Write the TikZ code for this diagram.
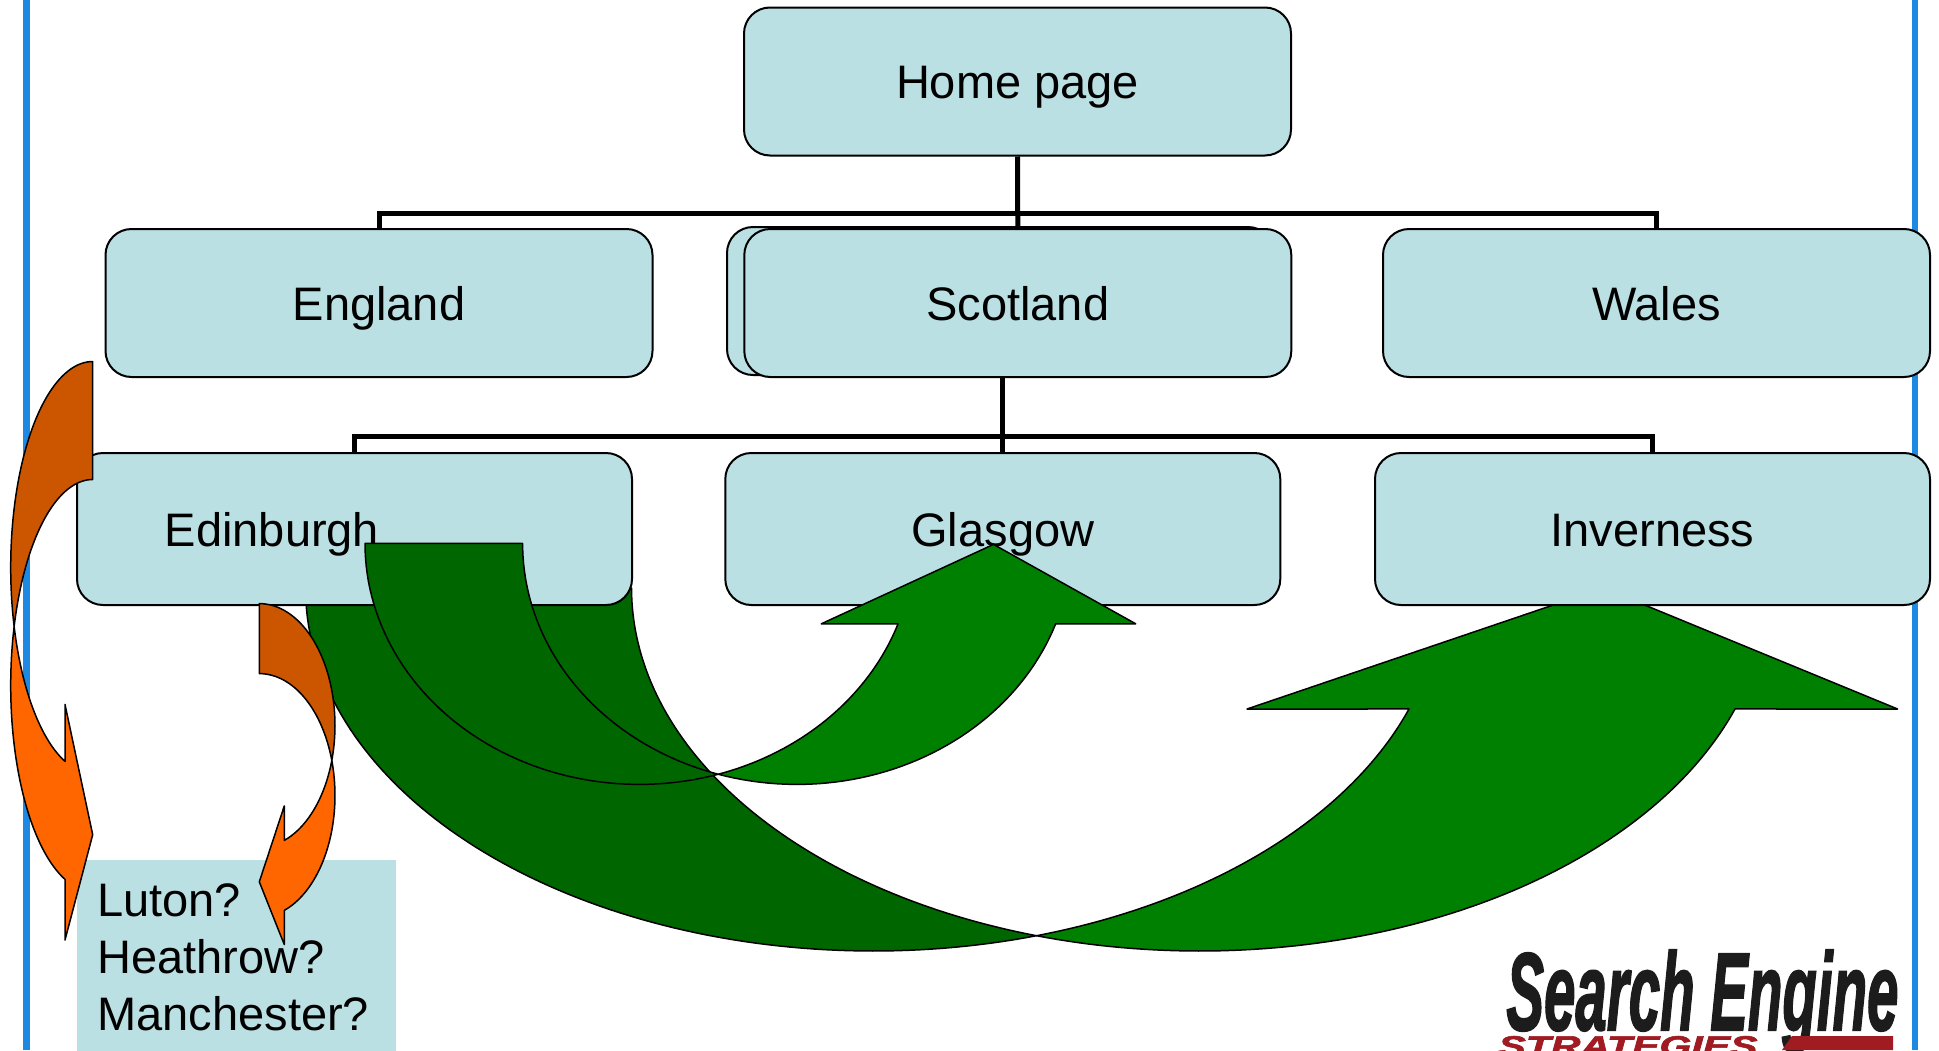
\documentclass[tikz,border=0pt]{standalone}
\usepackage{fontspec}
\setmainfont{Liberation Sans}
\newfontfamily\logofont[FakeBold=2]{Liberation Sans}
\usepackage{graphicx}
\definecolor{boxblue}{RGB}{187,224,227}
\definecolor{sideblue}{RGB}{30,137,226}
\definecolor{darkorange}{RGB}{204,85,0}
\definecolor{lightorange}{RGB}{255,102,0}
\definecolor{darkgreen}{RGB}{0,102,0}
\definecolor{lightgreen}{RGB}{0,128,0}
\definecolor{logored}{RGB}{160,28,34}
\definecolor{logoblack}{RGB}{28,28,28}
\pgfdeclarelayer{back}
\pgfsetlayers{back,main}
\begin{document}
\begin{tikzpicture}[x=0.5pt,y=-0.5pt,
  lbl/.style={font=\fontsize{23.5pt}{28.45pt}\selectfont, text height=17pt, text depth=0pt, inner sep=0pt},
  topbox/.style={lbl, draw=black, line width=1pt, fill=boxblue, rounded corners=13pt, minimum width=273.5pt, minimum height=74pt},
  subbox/.style={topbox, minimum width=277.5pt, minimum height=76pt},
  conn/.style={draw=black, line width=2.5pt},
  shapeline/.style={draw=black, line width=0.75pt, line join=round},
  darkO/.style={shapeline, fill=darkorange},
  lightO/.style={shapeline, fill=lightorange},
  darkG/.style={shapeline, fill=darkgreen},
  lightG/.style={shapeline, fill=lightgreen}]
\useasboundingbox (0,0) rectangle (1939,1050);
\clip (0,0) rectangle (1939,1050);
% side rules
\fill[sideblue] (23,0) rectangle (29.5,1050);
\fill[sideblue] (1912,0) rectangle (1918,1050);
% boxes
\coordinate (bus1) at (0,213.6);
\coordinate (bus2) at (0,436.9);
\node[topbox] (home) at (1017.5,81.5) {Home page};
\node[topbox] (england) at (379,303) {England};
\node[topbox] (scotlandback) at (1000.5,301) {};
\node[topbox] (scotland) at (1017.8,303) {Scotland};
\node[topbox] (wales) at (1656.5,303) {Wales};
\node[subbox] (edinburgh) at (354.5,529) {};
\node[lbl] (edinburghtext) at (272,529) {Edinburgh};
\node[subbox] (glasgow) at (1002.8,529) {Glasgow};
\node[subbox] (inverness) at (1652.5,529) {Inverness};
% connectors and the large arrow, behind the boxes
\begin{pgfonlayer}{back}
\draw[conn] (home.south) -- (scotland.north);
\draw[conn] (england.north) -- (england.north |- bus1) -- (wales.north |- bus1) -- (wales.north);
\draw[conn] (glasgow.north |- scotland.south) -- (glasgow.north);
\draw[conn] (edinburgh.north) -- (edinburgh.north |- bus2) -- (inverness.north |- bus2) -- (inverness.north);
% large green arrow Edinburgh -> Inverness
\path[lightG] plot[domain=73.32:19.47, samples=60] ({873.5+568*cos(\x)},{588+363*sin(\x)})
  -- (1247,709) -- (1603.3,588) -- (1897.6,709)
  -- plot[domain=19.47:106.68, samples=80] ({1199.5+568*cos(\x)},{588+363*sin(\x)}) -- cycle;
\path[darkG] (305.5,588) -- plot[domain=180:73.32, samples=90] ({873.5+568*cos(\x)},{588+363*sin(\x)})
  -- plot[domain=106.68:180, samples=70] ({1199.5+568*cos(\x)},{588+363*sin(\x)}) -- cycle;
\end{pgfonlayer}
% Luton box
\node[fill=boxblue, inner sep=0pt, minimum width=159.5pt, minimum height=100pt, anchor=north west] (lutonbox) at (77,860) {};
\node[lbl, anchor=base west] (luton) at (97,916.7) {Luton?};
\node[lbl, anchor=base west] (heathrow) at (97,973.6) {Heathrow?};
\node[lbl, anchor=base west] (manchester) at (97,1030.5) {Manchester?};
% left orange arrow
\path[lightO] plot[domain=163.36:109.74, samples=40] ({92.7+82*cos(\x)},{567.5+206*sin(\x)})
  -- (65,704.4) -- (92.7,834.7) -- (65,940)
  -- plot[domain=109.74:196.64, samples=40] ({92.7+82*cos(\x)},{685.5+206*sin(\x)}) -- cycle;
\path[darkO] plot[domain=270:163.36, samples=50] ({92.7+82*cos(\x)},{567.5+206*sin(\x)})
  -- plot[domain=196.64:270, samples=40] ({92.7+82*cos(\x)},{685.5+206*sin(\x)}) -- cycle;
% middle orange arrow
\path[lightO] plot[domain=16.7:70.7, samples=30] ({259.3+75.7*cos(\x)},{725.4+121.8*sin(\x)})
  -- (284.3,805.9) -- (259.3,881.8) -- (284.3,944.6)
  -- plot[domain=70.7:-16.7, samples=40] ({259.3+75.7*cos(\x)},{795.4+121.8*sin(\x)}) -- cycle;
\path[darkO] plot[domain=-90:16.7, samples=40] ({259.3+75.7*cos(\x)},{725.4+121.8*sin(\x)})
  -- plot[domain=-16.7:-90, samples=30] ({259.3+75.7*cos(\x)},{795.4+121.8*sin(\x)}) -- cycle;
% small green arrow Edinburgh -> Glasgow
\path[lightG] plot[domain=73.3:19.49, samples=40] ({639.4+274.4*cos(\x)},{543.4+241*sin(\x)})
  -- (821.3,623.8) -- (993.5,544.4) -- (1135.7,623.8)
  -- plot[domain=19.49:106.7, samples=50] ({797+274.4*cos(\x)},{543.4+241*sin(\x)}) -- cycle;
\path[darkG] (365,543.4) -- plot[domain=180:73.3, samples=60] ({639.4+274.4*cos(\x)},{543.4+241*sin(\x)})
  -- plot[domain=106.7:180, samples=50] ({797+274.4*cos(\x)},{543.4+241*sin(\x)}) -- cycle;
% logo
\node[anchor=base west, inner sep=0pt, text=logoblack] (logo) at (1506,1030)
  {\resizebox{196pt}{40pt}{\logofont\bfseries\itshape Search Engine}};
\node[anchor=base west, inner sep=0pt, text=logored] (logosub) at (1498,1056)
  {\resizebox{129.5pt}{10pt}{\logofont\bfseries\itshape STRATEGIES}};
\fill[logored] (1792,1036) -- (1893,1036) -- (1893,1050) -- (1782,1050) -- cycle;
\end{tikzpicture}
\end{document}
